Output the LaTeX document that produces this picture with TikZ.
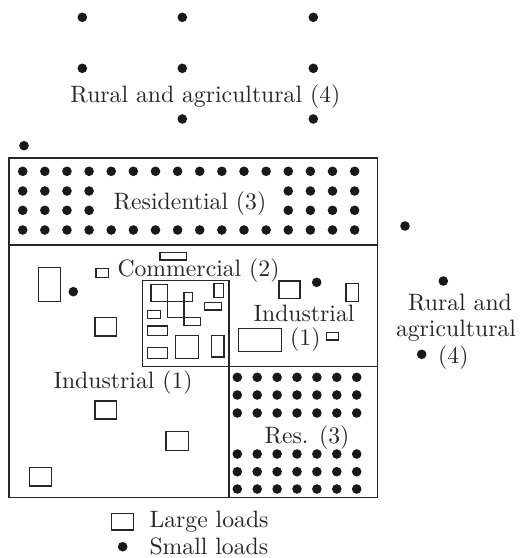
\documentclass[tikz,border=0pt]{standalone}
\newcommand{\T}[1]{\scalebox{2.37}{\fontsize{10}{12}\selectfont #1}}
\begin{document}
\begin{tikzpicture}[x=1pt,y=-1pt,
  box/.style={draw=black!85,line width=1.3pt},
  load/.style={draw=black!85,line width=1.2pt},
  lbl/.style={inner sep=0pt,anchor=base,text=black!85}]
\useasboundingbox (0,0) rectangle (520,558);
\def\sdot(#1,#2){\fill[black!90] (#1,#2) circle (4.8);}
% top rural dots
\foreach \x in {82.3,182.3,313.3}{\sdot(\x,17.3)\sdot(\x,68.3)}
\foreach \x in {182.3,313.3}{\sdot(\x,119)}
\node[lbl] (rural) at (205.4,102) {\T{Rural and agricultural (4)}};
\sdot(24,145.7)
% outer frame
\draw[box] (9,158) rectangle (377.7,497.3);
\draw[box] (9,245) -- (377.7,245);
\draw[box] (142.3,280.7) rectangle (229,366.7);
\draw[box] (229,366.7) -- (377.7,366.7);
\draw[box] (229,366.7) -- (229,497.3);
% residential dots
\foreach \i in {0,...,15}{\sdot({22.7+22.13*\i},171.3)\sdot({22.7+22.13*\i},230)}
\foreach \i in {0,1,2,3,12,13,14,15}{\sdot({22.7+22.13*\i},191)\sdot({22.7+22.13*\i},210.3)}
\node[lbl] (resid) at (190,209) {\T{Residential (3)}};
% res (3) dots
\foreach \i in {0,...,6}{\foreach \y in {377.3,395,413,454,471.7,489}{\sdot({237.3+19.9*\i},\y)}}
\node[lbl] (res) at (307,443) {\T{Res. (3)}};
% commercial label & loads
\node[lbl,anchor=base west] (comm) at (117.3,276) {\T{Commercial (2)}};
\draw[load] (160,252.3) rectangle (186.7,260);
\draw[load] (96,268.3) rectangle (108.3,277.3);
% commercial box contents
\draw[load] (151,284.3) rectangle (167.3,301.5);
\draw[load] (184,292.7) rectangle (192.7,301.5);
\draw[load] (184,317.7) rectangle (200.7,325.5);
\draw[load] (167.3,301.5) -- (184,301.5);
\draw[load] (167.3,301.5) -- (167.3,317.7) -- (184,317.7);
\draw[load] (184,301.5) -- (184,317.7);
\draw[load] (214,283.5) rectangle (223.3,297.3);
\draw[load] (204.3,302.7) rectangle (221.7,310);
\draw[load] (147.3,310.7) rectangle (160.7,318.3);
\draw[load] (147.3,326) rectangle (167.3,335.3);
\draw[load] (147.3,347.3) rectangle (167.3,358.3);
\draw[load] (175.7,335.7) rectangle (198.3,358.3);
\draw[load] (211.7,335.7) rectangle (224,357);
% industrial left
\draw[load] (38.3,267.3) rectangle (60.7,301.7);
\sdot(73.3,291.7)
\draw[load] (95,317.7) rectangle (116.7,336);
\node[lbl,anchor=base west] (indl) at (53.3,388) {\T{Industrial (1)}};
\draw[load] (95,401) rectangle (116.7,419);
\draw[load] (166,431.7) rectangle (188.7,450.7);
\draw[load] (29.3,467.3) rectangle (51.7,486);
% industrial right
\draw[load] (279,281) rectangle (300,298.3);
\sdot(316.7,282.3)
\draw[load] (346,283.3) rectangle (358.3,301.7);
\node[lbl] (indr) at (304,321) {\T{Industrial}};
\draw[load] (238.3,328.3) rectangle (281.7,351.7);
\node[lbl,anchor=base west] (indr1) at (290,345) {\T{(1)}};
\draw[load] (326.7,332.7) rectangle (338.3,340);
% right rural
\sdot(405,226)
\sdot(443.3,281)
\node[lbl] (rr1) at (460,310) {\T{Rural and}};
\node[lbl] (rr2) at (456,336) {\T{agricultural}};
\sdot(421.7,354.3)
\node[lbl,anchor=base west] (rr3) at (438,363) {\T{(4)}};
% legend
\draw[load] (111.7,513.3) rectangle (133.3,530);
\node[lbl,anchor=base west] (lg1) at (149.3,527) {\T{Large loads}};
\sdot(122.7,546.7)
\node[lbl,anchor=base west] (lg2) at (149.3,554) {\T{Small loads}};
\end{tikzpicture}
\end{document}
